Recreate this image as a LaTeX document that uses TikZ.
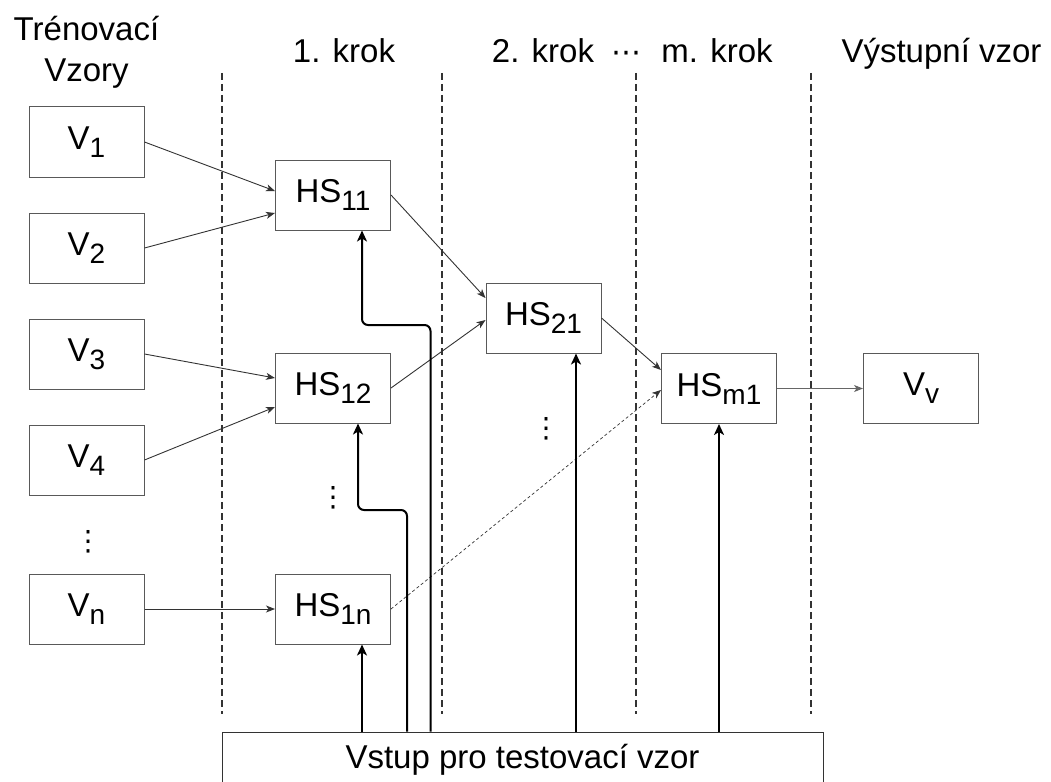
\documentclass[tikz,border=0pt]{standalone}
\usepackage{fontspec}
\setmainfont{Liberation Sans}
\newfontfamily\symfont{DejaVu Sans}
\usetikzlibrary{arrows.meta}

% lowered index as in the boxes
\newcommand{\idx}[1]{\raisebox{-8pt}{\fontsize{28}{28}\selectfont #1}}

\begin{document}
\begin{tikzpicture}[x=1pt, y=-1pt,
  box/.style={draw=black!65, line width=1pt, minimum width=115pt, minimum height=70pt,
    inner sep=0pt, font=\fontsize{33}{41}\selectfont},
  head/.style={inner sep=0pt, font=\fontsize{33}{41}\selectfont},
  conn/.style={draw=black!80, line width=0.9pt, -{Stealth[length=9pt,width=7pt,inset=2.5pt]}},
  feed/.style={draw=black, line width=2pt, rounded corners=6pt,
    -{Stealth[length=11pt,width=10pt,inset=3pt]}},
  sepline/.style={draw=black!80, line width=2pt, dash pattern=on 7pt off 4pt},
  vdot/.style={inner sep=0pt, font=\symfont\fontsize{28}{28}\selectfont}]

  \clip (0,0) rectangle (1051,781);

  % Headers
  \node[head, align=center, anchor=base] (train) at (86.5,82) {Trénovací\\Vzory};
  \node[head, anchor=base] (k1) at (344,63) {1. krok};
  \node[head, anchor=base] (k2) at (543,63) {2. krok};
  \node[head, anchor=base, font=\symfont\fontsize{30}{41}\selectfont] (kd) at (626,63) {⋯};
  \node[head, anchor=base] (km) at (717,63) {m. krok};
  \node[head, anchor=base] (outh) at (941.5,63) {Výstupní vzor};

  % Separators
  \foreach \x in {222,442,636,811}
    \draw[sepline] (\x,73) -- (\x,714);

  % Training patterns
  \node[box] (V1) at (86.5,142) {V\idx{1}};
  \node[box] (V2) at (86.5,248) {V\idx{2}};
  \node[box] (V3) at (86.5,354) {V\idx{3}};
  \node[box] (V4) at (86.5,460) {V\idx{4}};
  \node[vdot] (Vd) at (88,542) {⋮};
  \node[box] (Vn) at (86.5,609) {V\idx{n}};

  % Steps
  \node[box] (HS11) at (333,195) {HS\idx{11}};
  \node[box] (HS12) at (333,388) {HS\idx{12}};
  \node[vdot] (HSd1) at (333,498) {⋮};
  \node[box] (HS1n) at (333,609) {HS\idx{1n}};
  \node[box] (HS21) at (543.5,318) {HS\idx{21}};
  \node[vdot] (HSd2) at (546,429) {⋮};
  \node[box] (HSm1) at (719,388.5) {HS\idx{m1}};
  \node[box] (Vv) at (921,388.5) {V\idx{v}};

  % Test input
  \node[draw=black!80, line width=1pt, minimum width=601pt, inner ysep=0pt,
    text height=36pt, text depth=40pt, anchor=base,
    font=\fontsize{33}{41}\selectfont] (inp) at (522.5,768) {Vstup pro testovací vzor};

  % Pattern connectors
  \draw[conn] (V1.east) -- ([yshift=4pt]HS11.west);
  \draw[conn] (V2.east) -- ([yshift=-18pt]HS11.west);
  \draw[conn] (V3.east) -- ([yshift=10pt]HS12.west);
  \draw[conn] (V4.east) -- ([yshift=-19pt]HS12.west);
  \draw[conn] (Vn.east) -- (HS1n.west);
  \draw[conn] (HS11.east) -- ([yshift=20pt]HS21.west);
  \draw[conn] (HS12.east) -- ([yshift=-2pt]HS21.west);
  \draw[conn] (HS21.east) -- ([yshift=18.5pt]HSm1.west);
  \draw[conn, dash pattern=on 3pt off 2.5pt, line width=0.7pt] (HS1n.east) -- ([yshift=-1.5pt]HSm1.west);
  \draw[conn, draw=black!60] (HSm1.east) -- (Vv.west);

  % Test input feeds
  \coordinate (f11) at ([xshift=29pt]HS11.south);
  \coordinate (b11) at (430.5,325);
  \coordinate (f12) at ([xshift=25pt]HS12.south);
  \coordinate (b12) at (407,510);
  \coordinate (f1n) at ([xshift=29pt]HS1n.south);
  \coordinate (f21) at ([xshift=32.5pt]HS21.south);
  \draw[feed] (b11 |- inp.north) -- (b11) -| (f11);
  \draw[feed] (b12 |- inp.north) -- (b12) -| (f12);
  \draw[feed] (f1n |- inp.north) -- (f1n);
  \draw[feed] (f21 |- inp.north) -- (f21);
  \draw[feed] (HSm1.south |- inp.north) -- (HSm1.south);

\end{tikzpicture}
\end{document}
